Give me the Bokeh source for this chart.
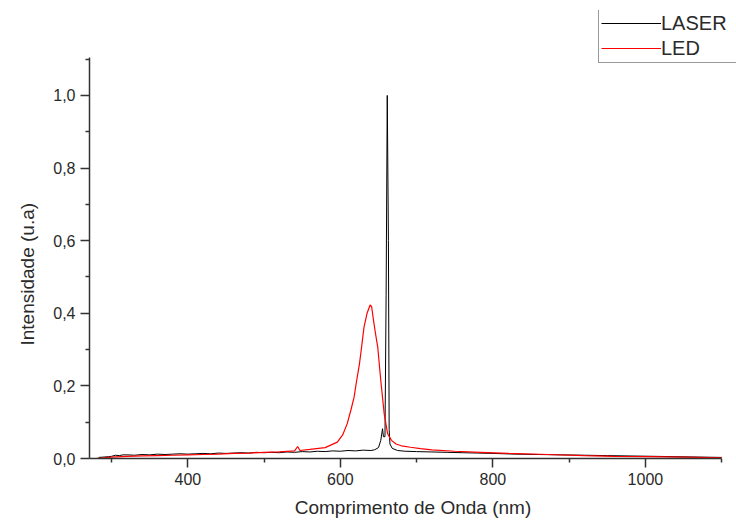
from bokeh.plotting import figure
from bokeh.models import Range1d, FixedTicker, CustomJSTickFormatter, Legend, LegendItem, Title
from bokeh.embed import file_html
from bokeh.resources import INLINE

# ---- data ----
laser_nm = [283, 290, 296, 300, 305, 310, 315, 320, 330, 340, 350, 360, 370, 380, 390,
            400, 410, 420, 430, 440, 450, 460, 470, 480, 490, 500, 510, 520, 530, 540,
            550, 560, 570, 580, 590, 600, 610, 620, 630, 640, 645, 650, 653, 655.3, 656.5,
            658.5, 660, 661.5, 663, 664, 665, 668, 675, 685, 700, 720, 740, 760, 780,
            800, 830, 860, 890, 920, 950, 980, 1010, 1040, 1070, 1100]
laser_int = [0.003, 0.004, 0.005, 0.006, 0.009, 0.008, 0.010, 0.010, 0.009, 0.011, 0.010,
             0.012, 0.011, 0.012, 0.013, 0.012, 0.013, 0.014, 0.013, 0.015, 0.014, 0.015,
             0.016, 0.015, 0.017, 0.016, 0.017, 0.016, 0.018, 0.017, 0.019, 0.018, 0.020,
             0.019, 0.021, 0.020, 0.022, 0.021, 0.023, 0.022, 0.024, 0.030, 0.050, 0.082,
             0.060, 0.060, 0.450, 1.000, 0.600, 0.080, 0.040, 0.028, 0.022, 0.020, 0.019,
             0.018, 0.017, 0.016, 0.015, 0.014, 0.012, 0.011, 0.010, 0.009, 0.008, 0.007,
             0.006, 0.005, 0.004, 0.003]

led_nm = [279, 290, 300, 320, 340, 360, 380, 400, 420, 440, 460, 480, 500, 520, 540, 544,
          547, 560, 580, 596, 603, 609, 614, 618, 621, 625, 628, 631, 635, 639, 641, 643.5,
          646, 649, 653, 657.5, 662, 667, 673, 680, 692, 705, 720, 750, 784, 820, 872, 920,
          959, 1000, 1050, 1100]
led_int = [0.000, 0.002, 0.004, 0.006, 0.007, 0.008, 0.009, 0.010, 0.011, 0.012, 0.014,
           0.015, 0.017, 0.018, 0.021, 0.033, 0.022, 0.025, 0.030, 0.045, 0.065, 0.096,
           0.135, 0.169, 0.210, 0.260, 0.310, 0.362, 0.400, 0.423, 0.418, 0.380, 0.345,
           0.307, 0.215, 0.123, 0.068, 0.050, 0.040, 0.035, 0.031, 0.027, 0.024, 0.020,
           0.017, 0.014, 0.011, 0.008, 0.006, 0.005, 0.004, 0.002]

x_major = [400, 600, 800, 1000]
x_minor = [300, 500, 700, 900, 1100]
y_major = [0.0, 0.2, 0.4, 0.6, 0.8, 1.0]
y_minor = [0.1, 0.3, 0.5, 0.7, 0.9, 1.1]
x_axis_span = (271, 1100)
y_axis_span = (0.0, 1.105)

FONT = "Liberation Sans"
TXT = "#2a2a2a"

p = figure(width=736, height=521, output_backend="svg", toolbar_location=None,
           x_range=Range1d(271, 1119.5), y_range=Range1d(0.0, 1.234),
           min_border_left=89, min_border_top=10, min_border_right=0, min_border_bottom=63)
p.outline_line_color = None
p.xgrid.visible = False
p.ygrid.visible = False
p.background_fill_color = "white"
p.border_fill_color = "white"

r1 = p.line(laser_nm, laser_int, line_color="black", line_width=1)
r2 = p.line(led_nm, led_int, line_color="#ff0000", line_width=1.2)

fmt = CustomJSTickFormatter(code="return tick.toFixed(1).replace('.', ',');")
p.yaxis.ticker = FixedTicker(ticks=y_major, minor_ticks=y_minor)
p.yaxis.formatter = fmt
p.xaxis.ticker = FixedTicker(ticks=x_major, minor_ticks=x_minor)
p.xaxis.bounds = x_axis_span
p.yaxis.bounds = y_axis_span

for ax in (p.xaxis[0], p.yaxis[0]):
    ax.axis_line_color = "#333333"
    ax.axis_line_width = 1.5
    ax.major_tick_line_color = "#333333"
    ax.minor_tick_line_color = "#333333"
    ax.major_tick_line_width = 1.5
    ax.minor_tick_line_width = 1.5
    ax.major_tick_in = 0
    ax.major_tick_out = 9
    ax.minor_tick_in = 0
    ax.minor_tick_out = 4
    ax.major_label_text_font = FONT
    ax.major_label_text_font_size = "16px"
    ax.major_label_text_color = TXT
    ax.axis_label_text_font = FONT
    ax.axis_label_text_font_style = "normal"
    ax.axis_label_text_color = TXT

p.xaxis.axis_label = "Comprimento de Onda (nm)"
p.xaxis.axis_label_text_font_size = "19px"
p.xaxis.major_label_standoff = 5
p.xaxis.axis_label_standoff = 9
p.yaxis.major_label_standoff = 5

ytitle = Title(text="Intensidade (u.a)", align="left", offset=113, standoff=26,
               text_font=FONT, text_font_size="19px", text_font_style="normal",
               text_color=TXT)
p.add_layout(ytitle, "left")

legend = Legend(items=[LegendItem(label="LASER", renderers=[r1]),
                       LegendItem(label="LED", renderers=[r2])],
                location=(509, 395), orientation="vertical")
legend.glyph_width = 60
legend.glyph_height = 24
legend.label_height = 24
legend.label_width = 90
legend.label_standoff = 0
legend.spacing = 1
legend.padding = 2
legend.margin = 0
legend.label_text_font = FONT
legend.label_text_font_size = "20px"
legend.label_text_color = TXT
legend.border_line_color = "#333333"
legend.border_line_width = 1.5
legend.background_fill_color = "white"
legend.background_fill_alpha = 1
p.add_layout(legend, "center")

open("out.html", "w").write(file_html(p, INLINE))
